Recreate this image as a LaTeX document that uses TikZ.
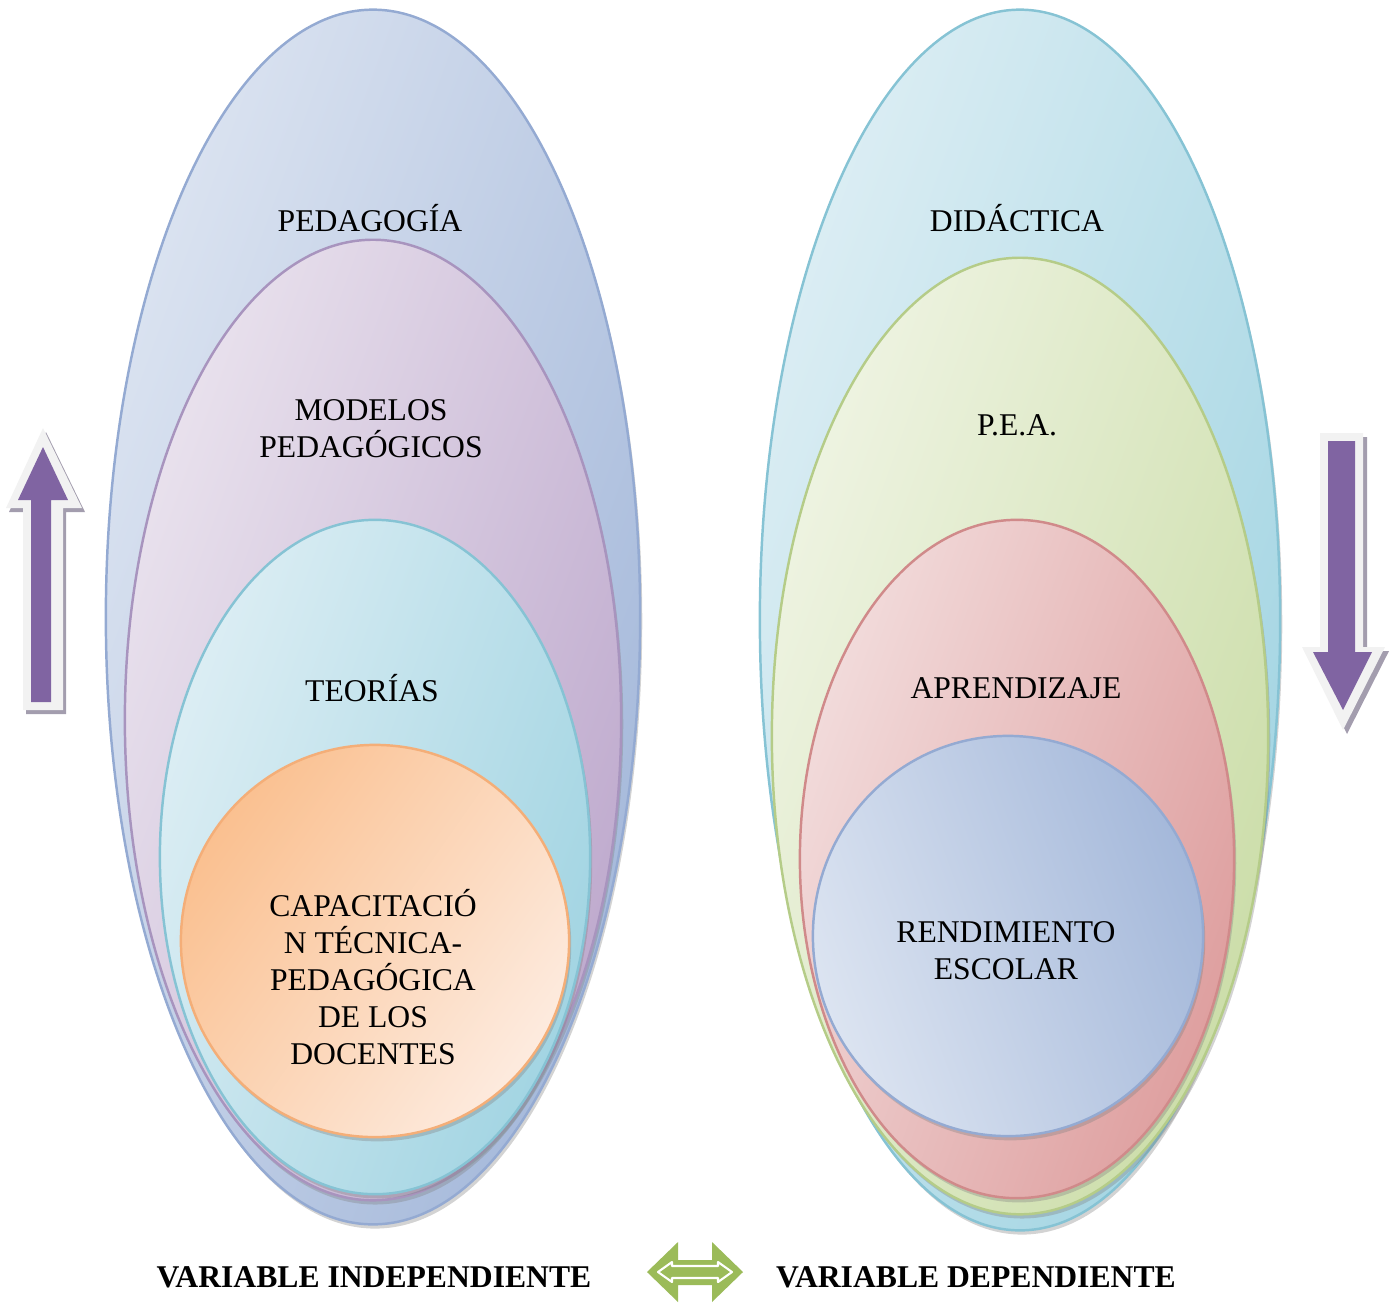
\documentclass[tikz,border=0pt]{standalone}
\usepackage{fontspec}
\setmainfont{Liberation Serif}
\usetikzlibrary{shapes.geometric,shadows}
\definecolor{blueL}{HTML}{DCE4F1}   \definecolor{blueD}{HTML}{A4B8DA}   \definecolor{blueB}{HTML}{94AAD2}
\definecolor{violetL}{HTML}{EAE3EE} \definecolor{violetD}{HTML}{BEA9CD} \definecolor{violetB}{HTML}{A894BE}
\definecolor{aquaL}{HTML}{DDEEF4}   \definecolor{aquaD}{HTML}{A1D4E2}   \definecolor{aquaB}{HTML}{86C3D4}
\definecolor{orangeL}{HTML}{FDEBDF} \definecolor{orangeD}{HTML}{FAC090} \definecolor{orangeB}{HTML}{F4AE78}
\definecolor{greenL}{HTML}{EFF4E3}  \definecolor{greenD}{HTML}{CBDDA8}  \definecolor{greenB}{HTML}{B5CC88}
\definecolor{redL}{HTML}{F2DCDC}    \definecolor{redD}{HTML}{DE9E9E}    \definecolor{redB}{HTML}{D08A8A}
\definecolor{arrowViolet}{HTML}{8064A2}
\definecolor{arrowRim}{HTML}{F2F2F2}
\definecolor{arrowShade}{HTML}{A39DAE}
\definecolor{arrowGreen}{HTML}{9BBB59}
\begin{document}
\begin{tikzpicture}[x=0.01cm,y=-0.01cm,line join=round,
	bubble/.style={ellipse,inner sep=0pt,line width=.7pt,
		drop shadow={shadow xshift=.6pt,shadow yshift=-1.2pt,opacity=.35}},
	lbl/.style={align=center,font=\fontsize{9}{10.5}\selectfont},
	foot/.style={font=\fontsize{9}{10.5}\selectfont\bfseries}]
	\useasboundingbox (0,0) rectangle (1394,1305);
	% variable independiente
	\node[bubble,draw=blueB,left color=blueL,right color=blueD,shading angle=70,
		minimum width=5.34cm,minimum height=12.14cm] (ped) at (373,617) {};
	\node[bubble,draw=violetB,left color=violetL,right color=violetD,shading angle=70,
		minimum width=4.96cm,minimum height=9.60cm] (mod) at (373,720) {};
	\node[bubble,draw=aquaB,left color=aquaL,right color=aquaD,shading angle=70,
		minimum width=4.30cm,minimum height=6.74cm] (teo) at (375,857) {};
	\node[bubble,draw=orangeB,left color=orangeD,right color=orangeL,shading angle=55,
		minimum width=3.88cm,minimum height=3.92cm] (cap) at (375,941) {};
	\node[lbl] (pedtxt) at (370,218) {PEDAGOGÍA};
	\node[lbl] (modtxt) at (371,429) {MODELOS\\PEDAGÓGICOS};
	\node[lbl] (teotxt) at (372,688) {TEORÍAS};
	\node[lbl] (captxt) at (373,977) {CAPACITACIÓ\\N TÉCNICA-\\PEDAGÓGICA\\DE LOS\\DOCENTES};
	% variable dependiente
	\node[bubble,draw=aquaB,left color=aquaL,right color=aquaD,shading angle=70,
		minimum width=5.20cm,minimum height=12.20cm] (did) at (1020,620) {};
	\node[bubble,draw=greenB,left color=greenL,right color=greenD,shading angle=70,
		minimum width=4.96cm,minimum height=9.56cm] (pea) at (1020,736) {};
	\node[bubble,draw=redB,left color=redL,right color=redD,shading angle=70,
		minimum width=4.34cm,minimum height=6.78cm] (apr) at (1017,859) {};
	\node[bubble,draw=blueB,left color=blueL,right color=blueD,shading angle=110,
		minimum width=3.90cm,minimum height=4.00cm] (ren) at (1008,936) {};
	\node[lbl] (didtxt) at (1017,218) {DIDÁCTICA};
	\node[lbl] (peatxt) at (1017,425) {P.E.A.};
	\node[lbl] (aprtxt) at (1016,688) {APRENDIZAJE};
	\node[lbl] (rentxt) at (1006,951) {RENDIMIENTO\\ESCOLAR};
	% flechas
	\fill[arrowShade] (46,432)--(85,512)--(66,512)--(66,714)--(26,714)--(26,512)--(9,512)--cycle;
	\fill[arrowRim] (43,428)--(82,508)--(63,508)--(63,710)--(23,710)--(23,508)--(6,508)--cycle;
	\fill[arrowViolet] (43,447)--(68,500)--(51,500)--(51,702)--(31,702)--(31,500)--(18,500)--cycle;
	\fill[arrowShade] (1324,437)--(1367,437)--(1367,651)--(1389,651)--(1347,734)--(1306,651)--(1324,651)--cycle;
	\fill[arrowRim] (1320,433)--(1363,433)--(1363,647)--(1385,647)--(1343,730)--(1302,647)--(1320,647)--cycle;
	\fill[arrowViolet] (1328,441)--(1355,441)--(1355,652)--(1372,652)--(1343,710)--(1313,652)--(1328,652)--cycle;
	\fill[arrowGreen] (647,1272)--(678,1242)--(678,1260)--(712,1260)--(712,1242)--(743,1272)
		--(712,1302)--(712,1285)--(678,1285)--(678,1302)--cycle;
	\draw[white,line width=.6pt] (658,1272)--(672,1262)--(672,1266)--(718,1266)--(718,1262)--(732,1272)
		--(718,1282)--(718,1278)--(672,1278)--(672,1282)--cycle;
	\node[foot] (indep) at (374,1277) {VARIABLE INDEPENDIENTE};
	\node[foot] (dep) at (976,1277) {VARIABLE DEPENDIENTE};
\end{tikzpicture}
\end{document}
